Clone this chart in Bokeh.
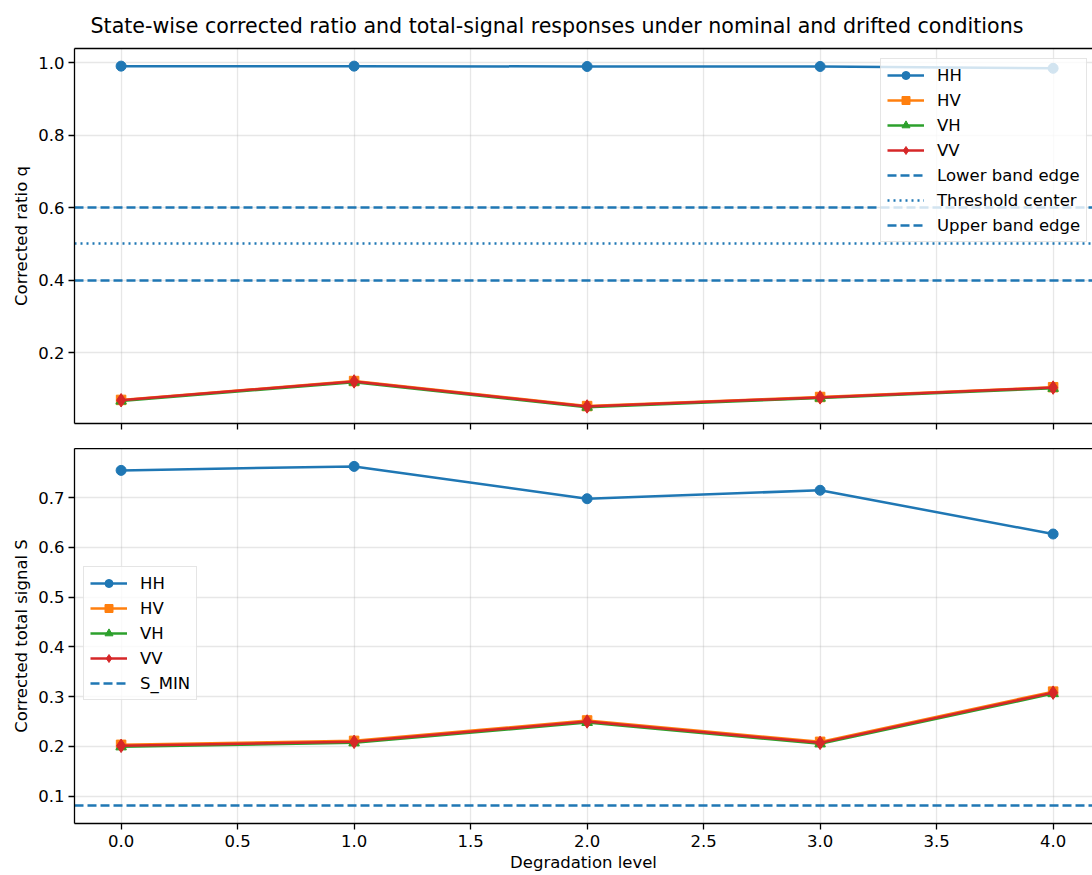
from bokeh.plotting import figure
from bokeh.models import (Range1d, LinearAxis, SingleIntervalTicker, FixedTicker,
                          Legend, LegendItem, PrintfTickFormatter, CustomJSTickFormatter)
from bokeh.layouts import column
from bokeh.embed import file_html
from bokeh.resources import INLINE

# ---------------- data ----------------
levels = [0, 1, 2, 3, 4]
states = ["HH", "HV", "VH", "VV"]

q_HH = [0.990, 0.990, 0.989, 0.989, 0.984]
q_HV = [0.070, 0.122, 0.053, 0.078, 0.105]
q_VH = [0.067, 0.119, 0.050, 0.075, 0.102]
q_VV = [0.069, 0.121, 0.052, 0.077, 0.104]

S_HH = [0.755, 0.763, 0.698, 0.715, 0.627]
S_HV = [0.203, 0.211, 0.252, 0.209, 0.310]
S_VH = [0.199, 0.207, 0.248, 0.205, 0.306]
S_VV = [0.201, 0.209, 0.250, 0.207, 0.308]

band_lower = 0.4
threshold_center = 0.5
band_upper = 0.6
S_MIN = 0.08

q_values = {"HH": q_HH, "HV": q_HV, "VH": q_VH, "VV": q_VV}
S_values = {"HH": S_HH, "HV": S_HV, "VH": S_VH, "VV": S_VV}

# ---------------- style ----------------
FONT = "DejaVu Sans"
colors = {"HH": "#1f77b4", "HV": "#ff7f0e", "VH": "#2ca02c", "VV": "#d62728"}
markers = {"HH": "circle", "HV": "square", "VH": "triangle", "VV": "diamond"}
msize = {"HH": 10, "HV": 9.5, "VH": 10.5, "VV": 13.5}
LW = 2.5
TICK_FS = "16.5px"
DASHED = "9 4"
DOTTED = "2 4"

X_START, X_END = -0.2, 4.169
FIG_W = 1092


def style(p, ylabel, y_interval, show_xlabels):
    p.outline_line_color = None
    p.background_fill_color = "white"
    p.border_fill_color = "white"
    p.xaxis.ticker = SingleIntervalTicker(interval=0.5)
    p.yaxis.ticker = SingleIntervalTicker(interval=y_interval)
    p.yaxis.formatter = PrintfTickFormatter(format="%.1f")
    for ax in (p.xaxis[0], p.yaxis[0]):
        ax.axis_line_color = "black"
        ax.axis_line_width = 1.3
        ax.major_tick_line_color = "black"
        ax.major_tick_line_width = 1.3
        ax.major_tick_out = 6
        ax.major_tick_in = 0
        ax.minor_tick_line_color = None
        ax.major_label_text_font = FONT
        ax.major_label_text_font_size = TICK_FS
        ax.major_label_text_color = "black"
        ax.axis_label_text_font = FONT
        ax.axis_label_text_font_size = TICK_FS
        ax.axis_label_text_font_style = "normal"
        ax.axis_label_text_color = "black"
    p.yaxis.axis_label = ylabel
    p.yaxis.major_label_standoff = 4
    p.yaxis.axis_label_standoff = 4
    if show_xlabels:
        p.xaxis.formatter = PrintfTickFormatter(format="%.1f")
        p.xaxis.axis_label = "Degradation level"
        p.xaxis.major_label_standoff = 5
        p.xaxis.axis_label_standoff = 3
    else:
        p.xaxis.formatter = CustomJSTickFormatter(code="return ''")
        p.xaxis.major_label_text_font_size = "1px"
        p.xaxis.major_label_standoff = 0
    for g in (p.xgrid[0], p.ygrid[0]):
        g.grid_line_color = "#b0b0b0"
        g.grid_line_alpha = 0.3
        g.grid_line_width = 1.3
    top_axis = LinearAxis(ticker=FixedTicker(ticks=[]), major_tick_out=0, major_tick_in=0,
                          minor_tick_out=0, minor_tick_in=0, major_label_text_font_size="1px",
                          major_label_standoff=0, axis_line_color="black", axis_line_width=1.3)
    p.add_layout(top_axis, "above")


def add_series(p, values):
    items = []
    for s in states:
        lr = p.line(levels, values[s], line_color=colors[s], line_width=LW)
        sr = p.scatter(levels, values[s], marker=markers[s], size=msize[s],
                       fill_color=colors[s], line_color=colors[s], line_width=1)
        items.append(LegendItem(label=s, renderers=[lr, sr]))
    return items


def make_legend(items, loc):
    lg = Legend(items=items, location=loc, margin=0, padding=6, spacing=5,
                glyph_width=37, glyph_height=20, label_height=20, label_standoff=13,
                label_text_font=FONT, label_text_font_size=TICK_FS, label_text_color="black",
                border_line_color="#cccccc", border_line_width=1.3,
                background_fill_color="white", background_fill_alpha=0.8)
    return lg


# ---------------- top figure ----------------
p1 = figure(width=FIG_W, height=448, x_range=Range1d(X_START, X_END),
            y_range=Range1d(0.005, 1.0386), output_backend="svg", toolbar_location=None,
            min_border_left=74, min_border_right=0, min_border_top=48, min_border_bottom=25)
style(p1, "Corrected ratio q", 0.2, False)
p1.title.text = ("State-wise corrected ratio and total-signal responses under "
                 "nominal and drifted conditions")
p1.title.text_font = FONT
p1.title.text_font_size = "20.6px"
p1.title.text_font_style = "normal"
p1.title.text_color = "black"
p1.title.align = "left"
p1.title.offset = 16
p1.title.standoff = 21

items1 = add_series(p1, q_values)
r_low = p1.hspan(y=[band_lower], line_color="#1f77b4", line_width=LW, line_dash=DASHED)
r_mid = p1.hspan(y=[threshold_center], line_color="#1f77b4", line_width=LW, line_dash=DOTTED)
r_up = p1.hspan(y=[band_upper], line_color="#1f77b4", line_width=LW, line_dash=DASHED)
items1 += [LegendItem(label="Lower band edge", renderers=[r_low]),
           LegendItem(label="Threshold center", renderers=[r_mid]),
           LegendItem(label="Upper band edge", renderers=[r_up])]
p1.add_layout(make_legend(items1, (806, 181)))

# ---------------- bottom figure ----------------
p2 = figure(width=FIG_W, height=427, x_range=p1.x_range,
            y_range=Range1d(0.0448, 0.799), output_backend="svg", toolbar_location=None,
            min_border_left=74, min_border_right=0, min_border_top=0, min_border_bottom=52)
style(p2, "Corrected total signal S", 0.1, True)
items2 = add_series(p2, S_values)
r_smin = p2.hspan(y=[S_MIN], line_color="#1f77b4", line_width=LW, line_dash=DASHED)
items2 += [LegendItem(label="S_MIN", renderers=[r_smin])]
p2.add_layout(make_legend(items2, (9, 123)))

layout = column(p1, p2, spacing=0)
open("out.html", "w").write(file_html(layout, INLINE))
